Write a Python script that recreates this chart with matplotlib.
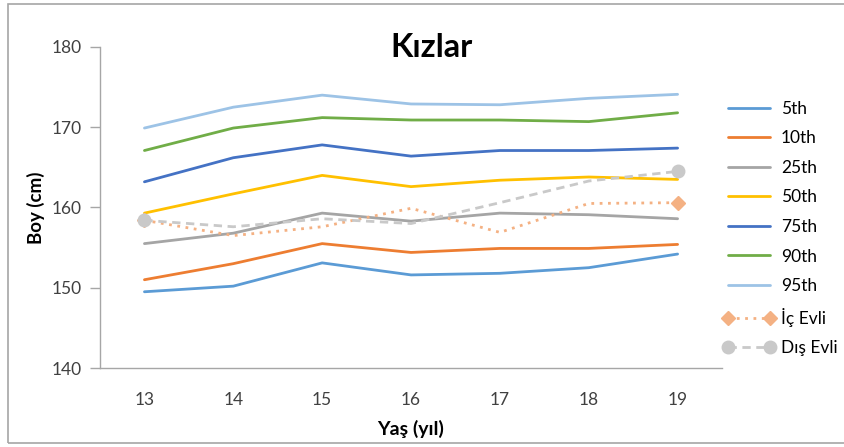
import matplotlib.pyplot as plt
from matplotlib.patches import Rectangle

plt.rcParams['font.family'] = ['Lato', 'DejaVu Sans']

ages = [13, 14, 15, 16, 17, 18, 19]

p5 = [149.5, 150.2, 153.1, 151.6, 151.8, 152.5, 154.2]
p10 = [151.0, 153.0, 155.5, 154.4, 154.9, 154.9, 155.4]
p25 = [155.5, 156.8, 159.3, 158.3, 159.3, 159.1, 158.6]
p50 = [159.3, 161.7, 164.0, 162.6, 163.4, 163.8, 163.5]
p75 = [163.2, 166.2, 167.8, 166.4, 167.1, 167.1, 167.4]
p90 = [167.1, 169.9, 171.2, 170.9, 170.9, 170.7, 171.8]
p95 = [169.9, 172.5, 174.0, 172.9, 172.8, 173.6, 174.1]
ic_evli = [158.4, 156.5, 157.6, 159.9, 156.9, 160.5, 160.6]
dis_evli = [158.4, 157.6, 158.6, 158.0, 160.6, 163.3, 164.5]

percentiles = [
    ('5th', p5, '#5B9BD5'),
    ('10th', p10, '#ED7D31'),
    ('25th', p25, '#A5A5A5'),
    ('50th', p50, '#FFC000'),
    ('75th', p75, '#4472C4'),
    ('90th', p90, '#70AD47'),
    ('95th', p95, '#9DC3E6'),
]

fig = plt.figure(figsize=(8.44, 4.47), dpi=100)
ax = fig.add_axes([0.1185, 0.1767, 0.737, 0.7182])

for name, vals, col in percentiles:
    ax.plot(ages, vals, color=col, lw=2.0, label=name, solid_capstyle='round')

ax.plot(ages, ic_evli, color='#F4B183', lw=2.0, ls=(0, (1, 2)),
        marker='D', ms=7.5, markevery=[0, 6], label='İç Evli')
ax.plot(ages, dis_evli, color='#C9C9C9', lw=2.0, ls=(0, (3, 2)),
        marker='o', ms=9, markevery=[0, 6], label='Dış Evli')

ax.set_xlim(12.5, 19.5)
ax.set_ylim(140, 180)
ax.set_xticks(ages)
ax.set_yticks(range(140, 181, 10))
ax.tick_params(axis='x', length=0, pad=17, labelsize=12.5, colors='#404040')
ax.tick_params(axis='y', length=7, width=1, color='#A6A6A6', labelsize=12.5,
               labelcolor='#404040', pad=6)

for side in ('top', 'right'):
    ax.spines[side].set_visible(False)
for side in ('left', 'bottom'):
    ax.spines[side].set_color('#A6A6A6')
    ax.spines[side].set_linewidth(1)

fig.text(432 / 844, 1 - 57 / 447, 'Kızlar', fontsize=23.5, fontweight='bold',
         ha='center', va='baseline')
ax.set_xlabel('Yaş (yıl)', fontsize=14, fontweight='bold', labelpad=9)
ax.set_ylabel('Boy (cm)', fontsize=13.5, fontweight='bold', labelpad=5)

ax.legend(loc='upper left', bbox_to_anchor=(0.848, 0.79), bbox_transform=fig.transFigure,
          frameon=False, fontsize=12.5, numpoints=2, handlelength=3.0,
          handletextpad=0.35, labelspacing=0.78, borderaxespad=0)

# outer chart border, open on the right edge
fig.patches.append(Rectangle((8 / 844, 4 / 447), 1.0, 1 - 8 / 447, transform=fig.transFigure,
                             fill=False, edgecolor='#A6A6A6', lw=1.2))

fig.savefig('out.png', dpi=100)
